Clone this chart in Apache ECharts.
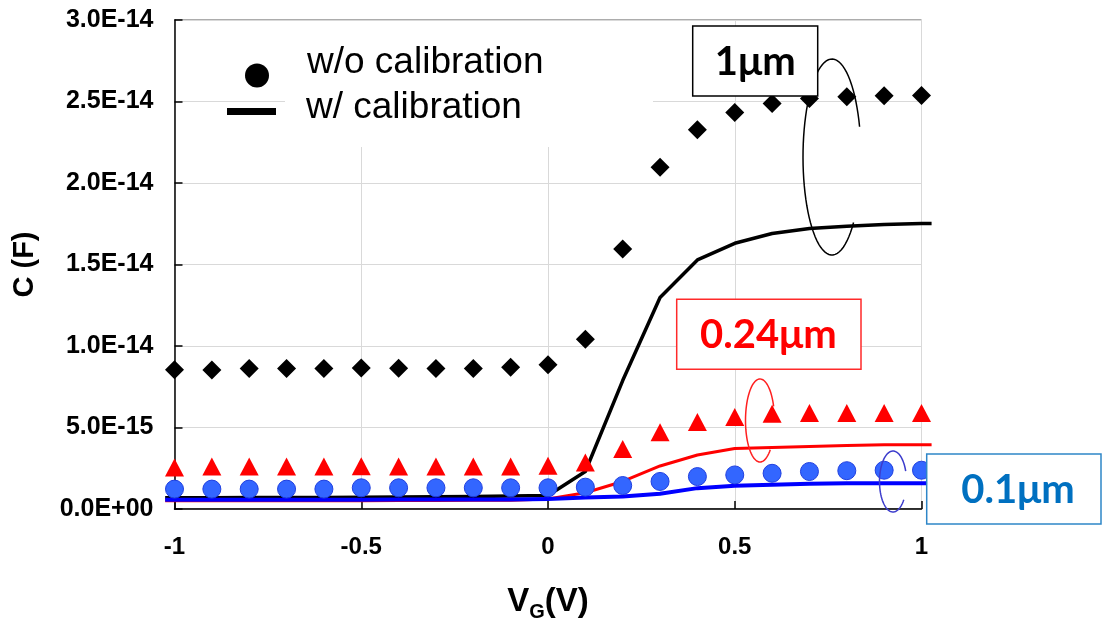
<!DOCTYPE html>
<html>
<head>
<meta charset="utf-8">
<script src="https://cdn.jsdelivr.net/npm/echarts@6/dist/echarts.min.js"></script>
<style>
  html, body { margin: 0; padding: 0; background: #ffffff; }
  #chart { width: 1105px; height: 627px; }
</style>
</head>
<body>
<div id="chart"></div>
<script>
// Gate voltage sweep (V) for the measured points
const vgPoints = [-1, -0.9, -0.8, -0.7, -0.6, -0.5, -0.4, -0.3, -0.2, -0.1, 0,
                  0.1, 0.2, 0.3, 0.4, 0.5, 0.6, 0.7, 0.8, 0.9, 1];
// Gate voltage grid of the calibrated curves (runs slightly past both ends)
const vgCurve = [-1.025, -1, -0.9, -0.8, -0.7, -0.6, -0.5, -0.4, -0.3, -0.2, -0.1, 0,
                 0.1, 0.2, 0.3, 0.4, 0.5, 0.6, 0.7, 0.8, 0.9, 1, 1.027];

// Capacitance in fF (1e-15 F), w/o calibration
const cap1umRaw   = [8.55, 8.53, 8.62, 8.62, 8.62, 8.65, 8.63, 8.62, 8.62, 8.70, 8.85,
                     10.42, 15.95, 20.97, 23.26, 24.32, 24.87, 25.19, 25.29, 25.35, 25.37];
const cap024umRaw = [2.55, 2.60, 2.60, 2.60, 2.60, 2.63, 2.60, 2.60, 2.60, 2.60, 2.66,
                     2.86, 3.68, 4.71, 5.34, 5.64, 5.85, 5.89, 5.89, 5.89, 5.89];
const cap01umRaw  = [1.22, 1.22, 1.22, 1.22, 1.22, 1.30, 1.30, 1.30, 1.30, 1.30, 1.30,
                     1.34, 1.44, 1.69, 1.99, 2.09, 2.19, 2.30, 2.35, 2.38, 2.38];

// Capacitance in fF, w/ calibration
const cap1umCal   = [0.69, 0.69, 0.69, 0.70, 0.70, 0.71, 0.72, 0.74, 0.75, 0.77, 0.79, 0.83,
                     2.30, 7.88, 12.98, 15.28, 16.30, 16.90, 17.21, 17.35, 17.46, 17.52, 17.52];
const cap024umCal = [0.50, 0.50, 0.50, 0.50, 0.50, 0.51, 0.51, 0.52, 0.52, 0.53, 0.54, 0.62,
                     1.00, 1.69, 2.64, 3.31, 3.71, 3.78, 3.84, 3.90, 3.94, 3.94, 3.94];
const cap01umCal  = [0.57, 0.57, 0.57, 0.57, 0.57, 0.57, 0.57, 0.58, 0.58, 0.58, 0.58, 0.62,
                     0.70, 0.77, 0.94, 1.28, 1.42, 1.49, 1.55, 1.58, 1.58, 1.58, 1.58];

// Tick labels
const xTickLabels = ['-1', '-0.5', '0', '0.5', '1'];
const yTickLabels = ['0.0E+00', '5.0E-15', '1.0E-14', '1.5E-14', '2.0E-14', '2.5E-14', '3.0E-14'];

// Series names and device-size tags
const legendNames = ['w/o calibration', 'w/ calibration'];
const sizeTags = ['1\u03BCm', '0.24\u03BCm', '0.1\u03BCm'];

const zip = (xs, ys) => xs.map((x, i) => [x, ys[i]]);

const excelFont = '"Liberation Sans", Arial, sans-serif';
const tagFont = 'Lato, "Open Sans", sans-serif';

const chart = echarts.init(document.getElementById('chart'), null, { renderer: 'canvas' });

// open loop (ellipse arc) used to group each device's curves
function loop(cx, cy, rx, ry, a0, a1) {
  const pts = [];
  const n = 72;
  for (let i = 0; i <= n; i++) {
    const a = (a0 + (a1 - a0) * i / n) * Math.PI / 180;
    pts.push([cx + rx * Math.cos(a), cy + ry * Math.sin(a)]);
  }
  return pts;
}

function tagBox(x, y, w, h, text, color, border, tx, ty) {
  return {
    type: 'group', z: 10,
    children: [
      { type: 'rect', shape: { x: x, y: y, width: w, height: h },
        style: { fill: '#ffffff', stroke: border, lineWidth: 1.5 }, z: 10 },
      { type: 'text', x: tx, y: ty, z: 11,
        style: { text: text, fill: color, font: 'bold 40px ' + tagFont,
                 align: 'center', verticalAlign: 'middle' } }
    ]
  };
}

function legendText(padding) {
  return {
    rich: {
      t: { fontSize: 37, fontFamily: excelFont, color: '#000', lineHeight: 37, padding: padding }
    }
  };
}

// calibrated curve: one polyline through all points, free to run past the plot edges
function curveSeries(name, ys, color, width, z) {
  return {
    name: name, type: 'custom', z: z, clip: false,
    data: zip(vgCurve, ys),
    encode: { x: 0, y: 1 },
    renderItem: (params, api) => {
      if (params.dataIndex !== 0) return { type: 'group', children: [] };
      const pts = vgCurve.map((x, i) => api.coord([x, ys[i]]));
      return {
        type: 'polyline',
        shape: { points: pts },
        style: { stroke: color, lineWidth: width, fill: null, lineJoin: 'round' }
      };
    }
  };
}

const option = {
  animation: false,
  backgroundColor: '#ffffff',
  grid: {
    left: 174.5, right: 183.5, top: 20, bottom: 114.3,
    show: true, borderColor: '#595959', borderWidth: 1, backgroundColor: 'transparent'
  },
  xAxis: {
    type: 'value', min: -1, max: 1, interval: 0.5,
    axisLine: { show: true, onZero: false, lineStyle: { color: '#000', width: 1.5 } },
    axisTick: { show: true, inside: true, length: 8, lineStyle: { color: '#000', width: 1.5 } },
    splitLine: { show: true, lineStyle: { color: '#d9d9d9', width: 1 } },
    axisLabel: {
      margin: 26, fontSize: 24, fontWeight: 'bold', color: '#000', fontFamily: excelFont,
      formatter: v => xTickLabels[Math.round((v + 1) / 0.5)]
    },
    name: '{v|V}{g|G}{v|(V)}',
    nameLocation: 'middle', nameGap: 76,
    nameTextStyle: {
      rich: {
        v: { fontSize: 33, fontWeight: 'bold', fontFamily: excelFont, color: '#000',
             lineHeight: 33, verticalAlign: 'top' },
        g: { fontSize: 20, fontWeight: 'bold', fontFamily: excelFont, color: '#000',
             lineHeight: 54 }
      }
    }
  },
  yAxis: {
    type: 'value', min: 0, max: 30, interval: 5,
    axisLine: { show: true, onZero: false, lineStyle: { color: '#000', width: 1.5 } },
    axisTick: { show: true, inside: true, length: 8, lineStyle: { color: '#000', width: 1.5 } },
    splitLine: { show: true, lineStyle: { color: '#d9d9d9', width: 1 } },
    axisLabel: {
      margin: 21, fontSize: 25, fontWeight: 'bold', color: '#000', fontFamily: excelFont,
      formatter: v => yTickLabels[Math.round(v / 5)]
    },
    name: 'C (F)',
    nameLocation: 'middle', nameGap: 135,
    nameTextStyle: { fontSize: 29, fontWeight: 'bold', fontFamily: excelFont, color: '#000' }
  },
  legend: [
    {
      data: [{ name: legendNames[0], icon: 'circle' }],
      left: 245, top: 44, padding: 0, selectedMode: false,
      itemWidth: 24, itemHeight: 24,
      formatter: '{t|{name}}',
      textStyle: legendText([0, 0, 26, 33])
    },
    {
      data: [{ name: legendNames[1], icon: 'rect' }],
      left: 227, top: 89.5, padding: 0, selectedMode: false,
      itemWidth: 49, itemHeight: 7,
      formatter: '{t|{name}}',
      textStyle: legendText([0, 0, 7, 25])
    }
  ],
  graphic: [
    // white backdrop behind the legend text
    { type: 'rect', z: 1, shape: { x: 285, y: 21, width: 368, height: 126 },
      style: { fill: '#ffffff' } },
    // grouping loops
    { type: 'polyline', z: 9, shape: { points: loop(832, 157, 29, 98, 42, 342) },
      style: { stroke: '#000000', lineWidth: 1.5, fill: null } },
    { type: 'polyline', z: 9, shape: { points: loop(760, 420.5, 14.5, 41.5, 45, 340) },
      style: { stroke: '#ff2020', lineWidth: 1.5, fill: null } },
    { type: 'polyline', z: 9, shape: { points: loop(893, 481.5, 13.5, 30.5, 37, 340) },
      style: { stroke: '#3c3ccc', lineWidth: 1.5, fill: null } },
    // device-size tags
    tagBox(692.7, 26, 125, 70, sizeTags[0], '#000000', '#000000', 755.3, 62),
    tagBox(676.7, 299.3, 184.3, 70, sizeTags[1], '#ff0000', '#ff2a2a', 768.4, 335.5),
    tagBox(926.7, 454, 174.3, 70, sizeTags[2], '#0070c0', '#2e86c8', 1018, 490)
  ],
  series: [
    // legend entries
    { name: legendNames[0], type: 'scatter', data: [], itemStyle: { color: '#000', opacity: 1 } },
    { name: legendNames[1], type: 'line', data: [], itemStyle: { color: '#000' },
      lineStyle: { color: '#000' } },
    // calibrated curves
    curveSeries('1um cal', cap1umCal, '#000000', 3.5, 2),
    curveSeries('0.24um cal', cap024umCal, '#ff0000', 3, 3),
    curveSeries('0.1um cal', cap01umCal, '#0000ff', 4, 4),
    // uncalibrated points
    { name: '1um raw', type: 'scatter', data: zip(vgPoints, cap1umRaw), clip: false,
      symbol: 'diamond', symbolSize: 19, z: 5, itemStyle: { color: '#000000', opacity: 1 } },
    { name: '0.24um raw', type: 'scatter', data: zip(vgPoints, cap024umRaw), clip: false,
      symbol: 'triangle', symbolSize: [19, 18], z: 5, itemStyle: { color: '#ff0000', opacity: 1 } },
    { name: '0.1um raw', type: 'scatter', data: zip(vgPoints, cap01umRaw), clip: false,
      symbol: 'circle', symbolSize: 18, z: 6,
      itemStyle: { color: '#3366ff', borderColor: '#1f3fe0', borderWidth: 1, opacity: 1 } }
  ]
};

chart.setOption(option);
</script>
</body>
</html>
